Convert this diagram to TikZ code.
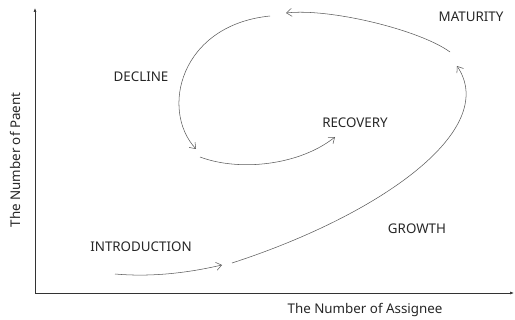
\documentclass[tikz,border=0pt]{standalone}
\usepackage{fontspec}
\setmainfont{Noto Sans}
\usetikzlibrary{arrows.meta}

\begin{document}
\begin{tikzpicture}[
    x=0.03cm, y=-0.03cm,
    stage/.style={
        font=\fontsize{11.4}{13}\selectfont,
        text=black!85,
        inner sep=0pt
    },
    flow/.style={->, >={Straight Barb[length=1.6mm,width=2.4mm]}, line width=0.45pt, black!65},
    axis/.style={-{Latex[length=1.2mm,width=0.9mm]}, line width=0.5pt, black!80}
]
\useasboundingbox (0,0) rectangle (515,320);

% axes
\coordinate (origin) at (35,293);
\coordinate (ytop) at (35,8);
\coordinate (xend) at (514,293);
\draw[axis] (origin) -- (ytop);
\draw[axis] (origin) -- (xend);

\node[stage, rotate=90] (ylab) at (15,160) {The Number of Paent};
\node[stage] (xlab) at (365,310) {The Number of Assignee};

% stages
\node[stage] (intro) at (141,247) {INTRODUCTION};
\node[stage] (growth) at (417,229) {GROWTH};
\node[stage] (maturity) at (471,17) {MATURITY};
\node[stage] (decline) at (141,77) {DECLINE};
\node[stage] (recovery) at (355,123) {RECOVERY};

% ends of the cycle arrows
\coordinate (intro-s) at (115,274);
\coordinate (intro-e) at (222,265);
\coordinate (growth-s) at (232,263);
\coordinate (growth-e) at (457,66);
\coordinate (mature-s) at (450,52);
\coordinate (mature-e) at (286,13);
\coordinate (decline-s) at (270,16);
\coordinate (decline-e) at (196,149);
\coordinate (recov-s) at (200,157);
\coordinate (recov-e) at (335,137);

\draw[flow] (intro-s) .. controls (160,278) and (200,270) .. (intro-e);
\draw[flow] (growth-s) .. controls (380,215) and (500,130) .. (growth-e);
\draw[flow] (mature-s) .. controls (420,30) and (330,8) .. (mature-e);
\draw[flow] (decline-s) .. controls (180,25) and (160,110) .. (decline-e);
\draw[flow] (recov-s) .. controls (240,172) and (300,165) .. (recov-e);

\end{tikzpicture}
\end{document}
